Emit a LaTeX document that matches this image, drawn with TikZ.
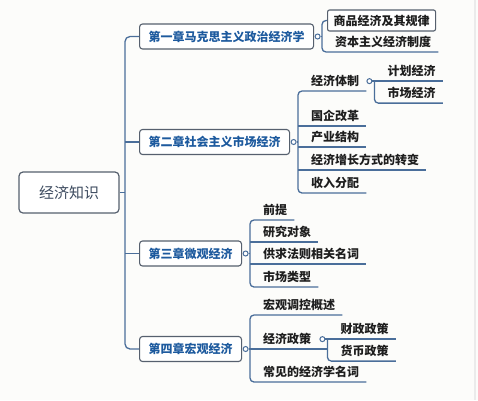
\documentclass[tikz,border=0pt]{standalone}
\usepackage{fontspec}
\setmainfont{Noto Sans CJK SC}
\usepackage{tikz}

\definecolor{linkblue}{HTML}{4A6E9A}
\definecolor{boxgray}{HTML}{56606E}
\definecolor{chapblue}{HTML}{1D5A9E}
\definecolor{leafblack}{HTML}{1E1E1E}
\definecolor{rootgray}{HTML}{3D4B5F}
\definecolor{paper}{HTML}{FCFCFA}

\tikzset{
  link/.style={draw=linkblue, line width=1.3pt},
  root/.style={draw=boxgray, line width=1.2pt, rounded corners=4pt, fill=white,
    minimum width=100pt, minimum height=41pt, text=rootgray,
    font=\fontsize{15}{18}\selectfont},
  chapter/.style={draw=boxgray, line width=1.1pt, rounded corners=3pt, fill=white,
    anchor=west, inner xsep=9pt, minimum height=25pt, text=chapblue,
    font=\fontsize{12}{14}\selectfont\bfseries},
  pickedleaf/.style={draw=boxgray, line width=1.1pt, rounded corners=2pt, fill=white,
    anchor=west, inner xsep=6pt, minimum height=21pt, text=leafblack,
    font=\fontsize{12}{14}\selectfont\bfseries},
  leaf/.style={anchor=south west, inner xsep=0pt, inner ysep=4pt, text depth=1pt,
    text=leafblack, font=\fontsize{12}{14}\selectfont\bfseries,
    execute at begin node={\hspace{13pt}}, execute at end node={\hspace{7pt}}},
  knob/.style={circle, draw=linkblue, line width=1pt, fill=white,
    inner sep=0pt, minimum size=5pt},
}

\begin{document}
\begin{tikzpicture}[x=1pt, y=-1pt]
\useasboundingbox (0,0) rectangle (478,400);
\fill[paper] (0,0) rectangle (478,400);
\draw[black!8, line width=1.5pt] (475,0) -- (475,400);

% root and the four chapters
\node[root] (econ) at (69,192.5) {经济知识};
\node[chapter] (ch1) at (139,36.5) {第一章马克思主义政治经济学};
\node[chapter] (ch2) at (139,142) {第二章社会主义市场经济};
\node[chapter] (ch3) at (139,253.5) {第三章微观经济};
\node[chapter] (ch4) at (139,349) {第四章宏观经济};
\coordinate (fork) at (125,192.5);
\draw[link] (econ.east) -- (fork);
\draw[link, rounded corners=5pt] (ch1.west) -| (fork) |- (ch4.west);
\draw[link] (ch2.west) -- (ch2.west -| fork);
\draw[link] (ch3.west) -- (ch3.west -| fork);

% chapter 1
\node[pickedleaf] (l11) at (327,20.5) {商品经济及其规律};
\node[leaf] (l12) at (322,52) {资本主义经济制度};
\node[knob] (k1) at ([xshift=3.5pt]ch1.east) {};
\draw[link] (k1.east) -- (k1.east -| l12.south west);
\draw[link, rounded corners=4pt] (l11.west) -| (l12.south west) -- (l12.south east);

% chapter 2
\node[leaf] (l21) at (298,91) {经济体制};
\node[leaf] (l22) at (298,126) {国企改革};
\node[leaf] (l23) at (298,147) {产业结构};
\node[leaf] (l24) at (298,170) {经济增长方式的转变};
\node[leaf] (l25) at (298,193) {收入分配};
\node[knob] (k2) at ([xshift=3.5pt]ch2.east) {};
\draw[link] (k2.east) -- (k2.east -| l21.south west);
\draw[link, rounded corners=4pt] (l21.south east) -- (l21.south west) -- (l25.south west) -- (l25.south east);
\foreach \n in {l22,l23,l24}
{
\draw[link] (\n.south west) -- (\n.south east);
}
\node[knob] (k21) at ([xshift=3pt]l21.east) {};
\node[leaf] (l211) at ([xshift=2pt]k21.east) {计划经济};
\node[leaf] (l212) at ([yshift=-22pt]l211.south west) {市场经济};
\draw[link] (k21.east) -- (l211.south east);
\draw[link, rounded corners=4pt] (l211.south west) -- (l212.south west) -- (l212.south east);

% chapter 3
\node[leaf] (l31) at (250,220) {前提};
\node[leaf] (l32) at (250,242) {研究对象};
\node[leaf] (l33) at (250,264) {供求法则相关名词};
\node[leaf] (l34) at (250,287) {市场类型};
\node[knob] (k3) at ([xshift=3.5pt]ch3.east) {};
\draw[link] (k3.east) -- (k3.east -| l31.south west);
\draw[link, rounded corners=4pt] (l31.south east) -- (l31.south west) -- (l34.south west) -- (l34.south east);
\foreach \n in {l32,l33}
{
\draw[link] (\n.south west) -- (\n.south east);
}

% chapter 4
\node[leaf] (l41) at (250,315) {宏观调控概述};
\node[leaf] (l42) at (250,349) {经济政策};
\node[leaf] (l45) at (250,382) {常见的经济学名词};
\node[knob] (k4) at ([xshift=3.5pt]ch4.east) {};
\draw[link] (k4.east) -- (k4.east -| l41.south west);
\draw[link, rounded corners=4pt] (l41.south east) -- (l41.south west) -- (l45.south west) -- (l45.south east);
\node[knob] (k42) at ([xshift=4pt]l42.east) {};
\node[leaf] (l421) at ([xshift=2pt]k42.east) {财政政策};
\node[leaf] (l422) at ([yshift=-22pt]l421.south west) {货币政策};
\draw[link] (l42.south west) -- (l42.south west -| l421.south west);
\draw[link] (k42.east) -- (l421.south east);
\draw[link, rounded corners=4pt] (l421.south west) -- (l422.south west) -- (l422.south east);
\end{tikzpicture}
\end{document}
